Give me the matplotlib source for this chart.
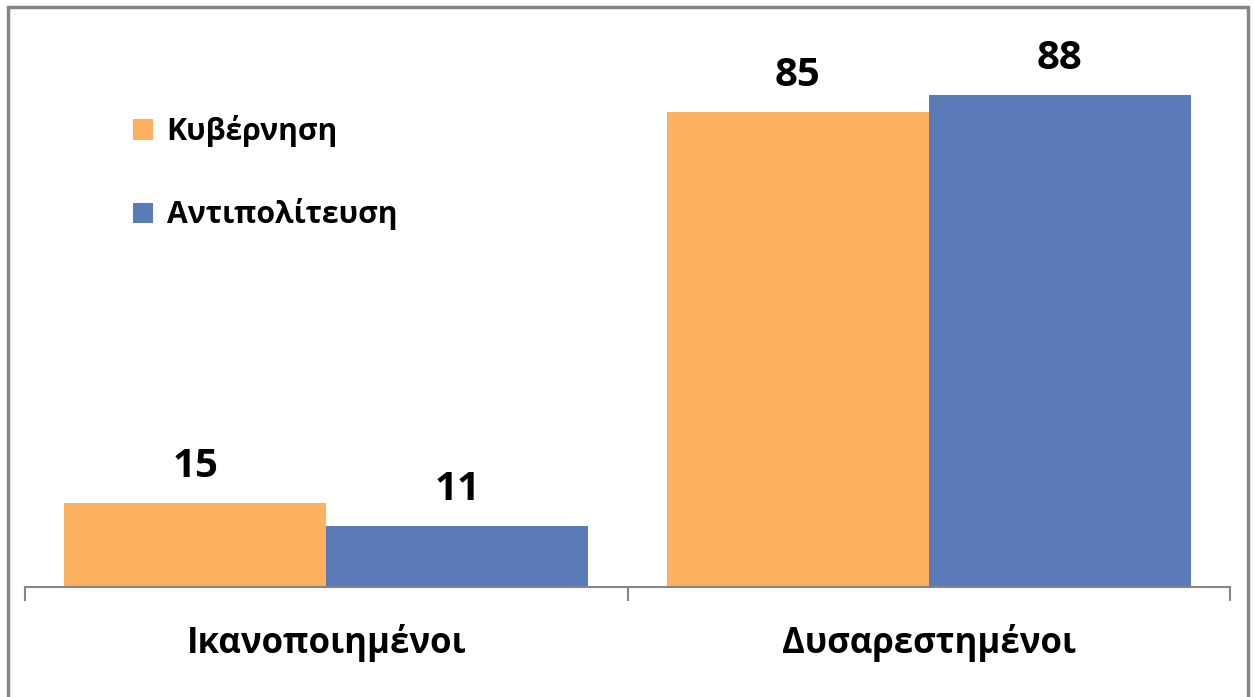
import matplotlib.pyplot as plt
from matplotlib.patches import Rectangle
import numpy as np

plt.rcParams['font.family'] = ['Open Sans', 'DejaVu Sans']

categories = ["Ικανοποιημένοι", "Δυσαρεστημένοι"]
series_names = ["Κυβέρνηση", "Αντιπολίτευση"]
kyvernisi = [15, 85]
antipoliteusi = [11, 88]

orange = "#FDB15E"
blue = "#5B7BB8"
grey = "#868686"

fig = plt.figure(figsize=(12.54, 6.97), dpi=100)
# outer chart border
fig.patches.append(Rectangle((8 / 1254, -0.01), 1240 / 1254, 1 - 7 / 697 + 0.01,
                             transform=fig.transFigure, fill=False,
                             edgecolor=grey, linewidth=2.5))

ax = fig.add_axes([25 / 1254, 1 - 587 / 697, 1205 / 1254, 559 / 697])
x = np.arange(len(categories))
w = 0.435
b1 = ax.bar(x - w / 2, kyvernisi, w, color=orange, label=series_names[0])
b2 = ax.bar(x + w / 2, antipoliteusi, w, color=blue, label=series_names[1])

for bars, vals in ((b1, kyvernisi), (b2, antipoliteusi)):
    for r, v in zip(bars, vals):
        ax.annotate(str(v), (r.get_x() + r.get_width() / 2, r.get_height()),
                    xytext=(0, 12), textcoords="offset points",
                    ha="center", va="bottom", fontsize=29, fontweight="bold")

ax.set_xlim(-0.5, len(categories) - 0.5)
ax.set_ylim(0, 100)
for s in ["top", "right", "left"]:
    ax.spines[s].set_visible(False)
ax.spines["bottom"].set_color(grey)
ax.spines["bottom"].set_linewidth(1.5)
ax.set_yticks([])

ax.set_xticks(x)
ax.set_xticklabels(categories, fontsize=25, fontweight="bold")
ax.tick_params(axis="x", which="major", length=0, pad=27)
ax.set_xticks(np.arange(len(categories) + 1) - 0.5, minor=True)
ax.tick_params(axis="x", which="minor", length=10, width=1.5, color=grey)

ax.legend(loc="upper left", bbox_to_anchor=(106 / 1254, 1 - 88 / 697),
          bbox_transform=fig.transFigure, frameon=False,
          prop={"size": 21.7, "weight": "bold"},
          handlelength=0.66, handleheight=0.66, handletextpad=0.45,
          labelspacing=1.7)

fig.savefig("out.png", dpi=100)
